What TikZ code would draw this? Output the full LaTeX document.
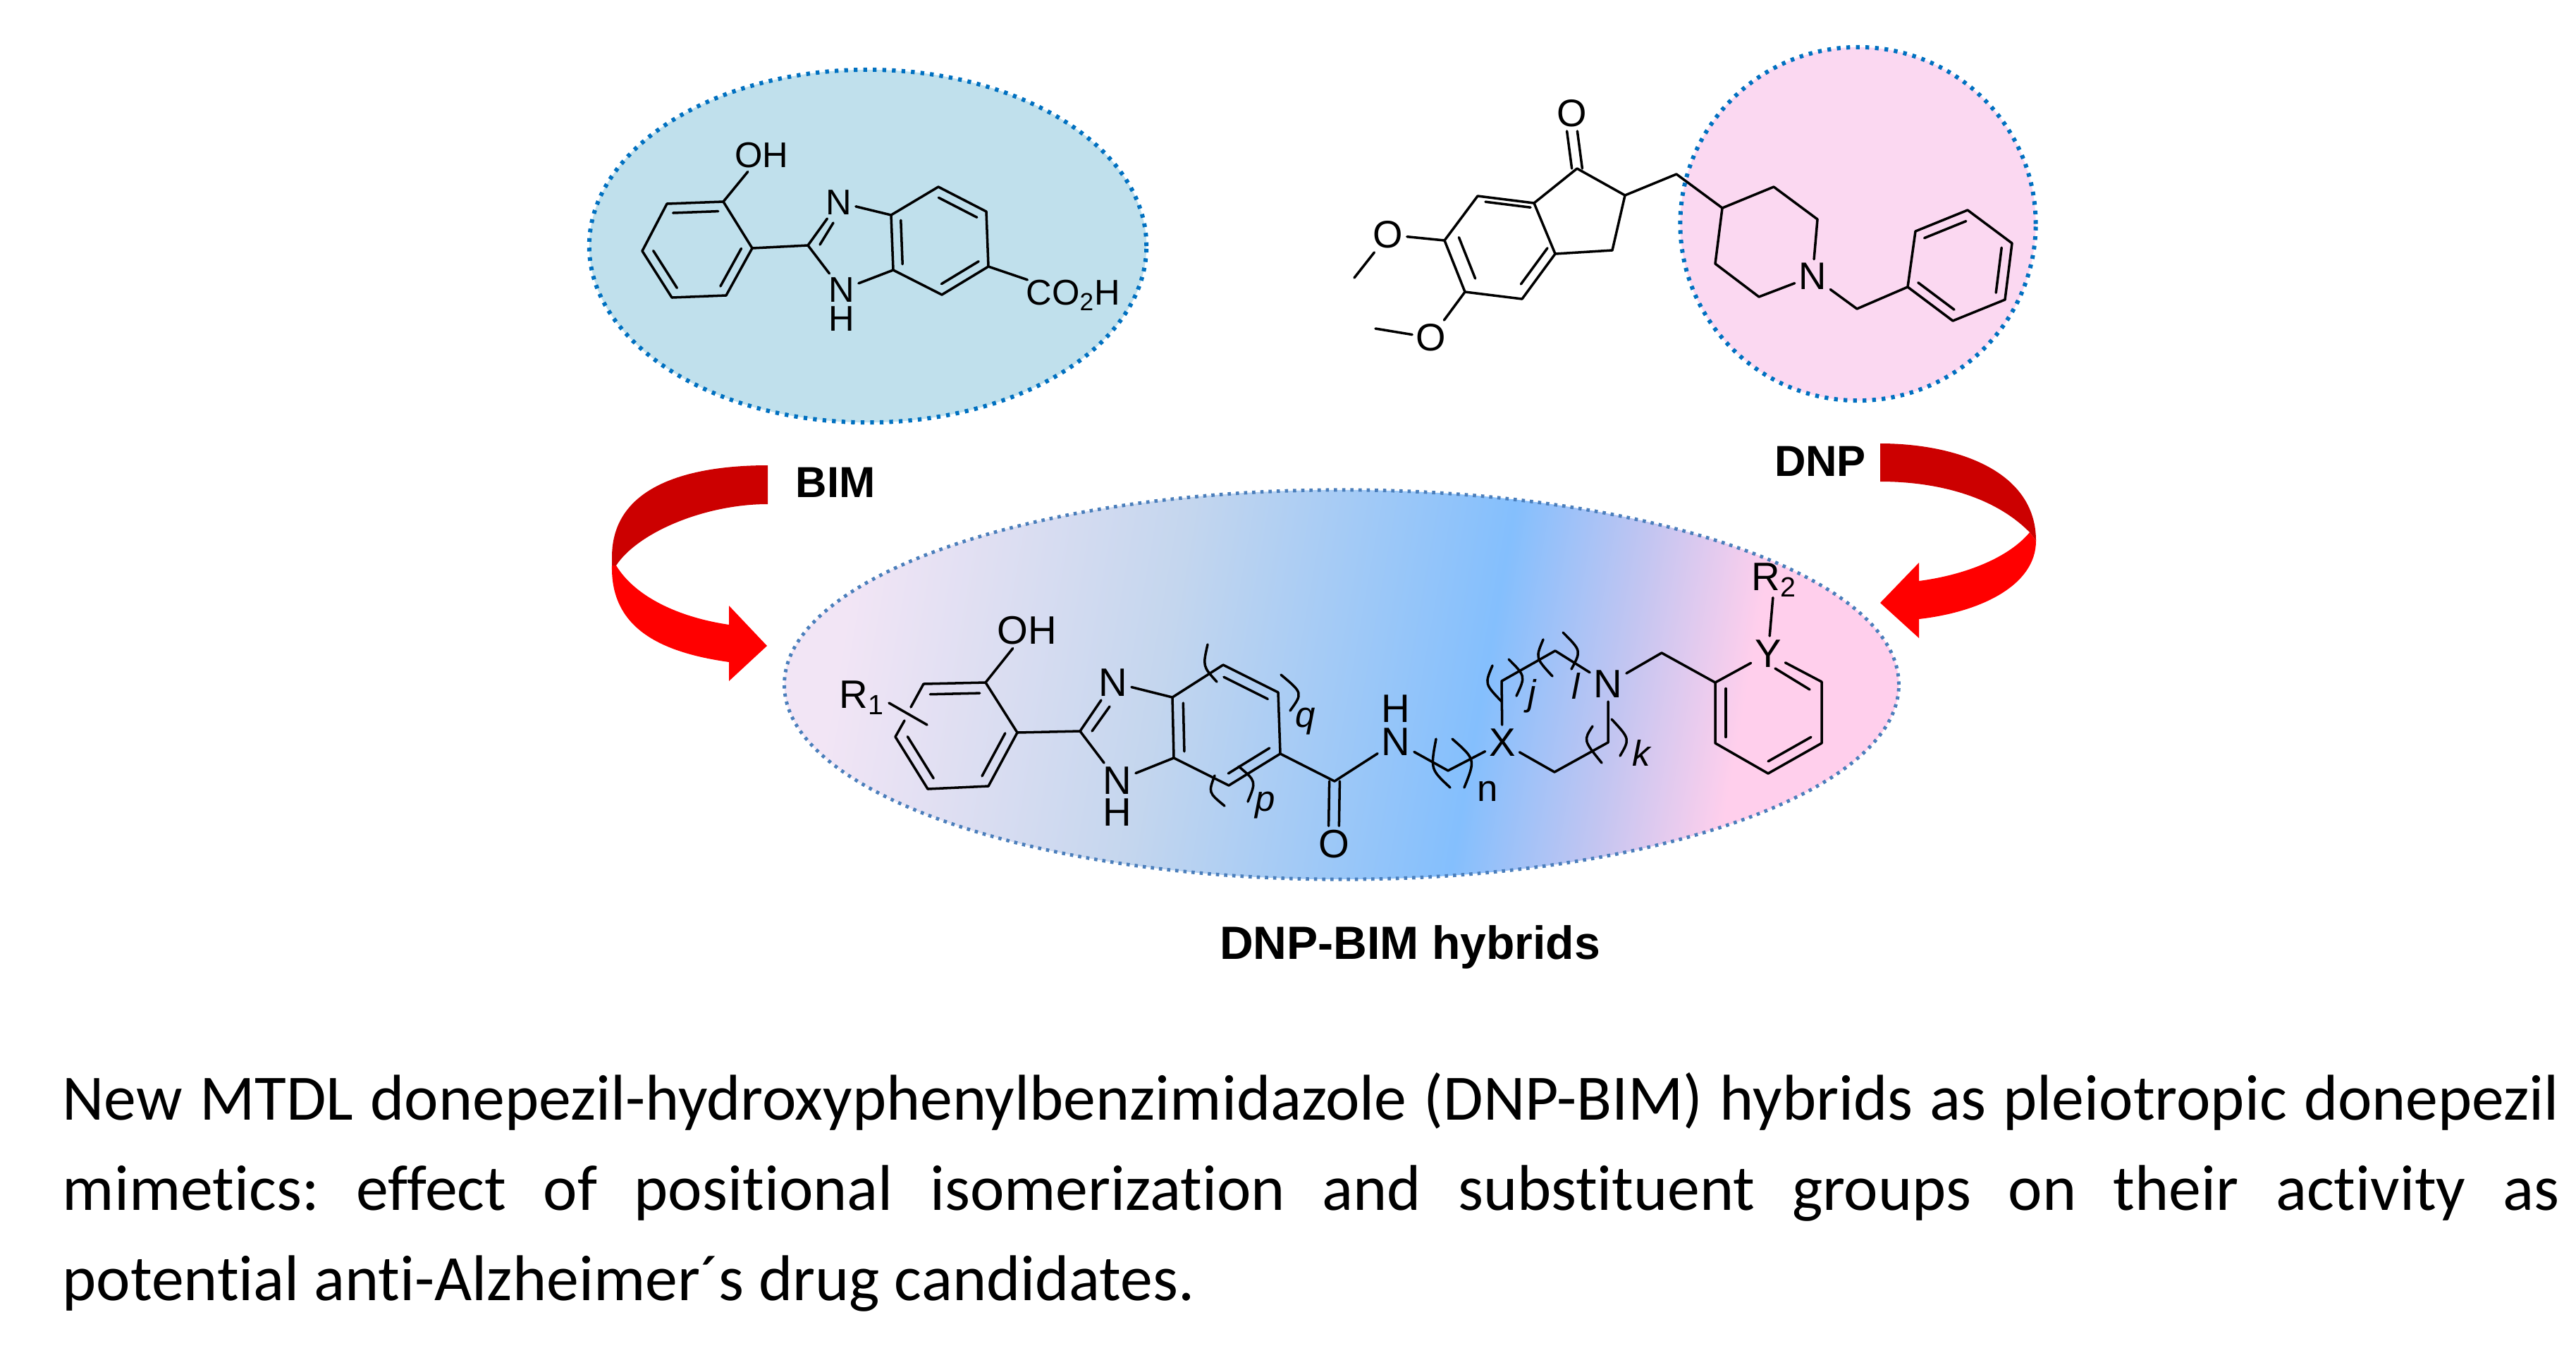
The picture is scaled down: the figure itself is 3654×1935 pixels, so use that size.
\documentclass[tikz,border=0pt]{standalone}
\usepackage{fontspec}
\setmainfont{Liberation Sans}
\newfontfamily\captionfamily[Ligatures=NoCommon]{Carlito}
\usepackage{xcolor}
\usetikzlibrary{positioning,shapes,calc}

\definecolor{bimfill}{HTML}{C0E0EC}
\definecolor{dnpfill}{HTML}{FBD8F1}
\definecolor{dotblue}{HTML}{0070C0}
\definecolor{hybdot}{HTML}{4A7EBB}
\definecolor{darkarrow}{HTML}{CC0000}
\definecolor{hylav}{HTML}{F2E5F5}
\definecolor{hymid}{HTML}{C4D6EE}
\definecolor{hyblue}{HTML}{84BFFD}
\definecolor{hypurp}{HTML}{C2C5F1}
\definecolor{hypink}{HTML}{FFCFEC}
\pgfdeclarehorizontalshading{hybridshade}{100bp}{color(0bp)=(hylav); color(25bp)=(hylav);
  color(41bp)=(hymid); color(57bp)=(hyblue); color(63.8bp)=(hypurp); color(70bp)=(hypink); color(100bp)=(hypink)}

\newcommand{\innerbond}[3]{\draw[bond] ($(#1)!0.2!(#3)$) -- ($(#2)!0.2!(#3)$);}

\begin{document}
\frenchspacing
\begin{tikzpicture}[x=0.01cm,y=-0.01cm,
  bond/.style={line width=1pt, line join=round, line cap=round},
  atomnode/.style={inner sep=1.4pt, font=\fontsize{14.4}{15}\selectfont},
  dnpatom/.style={inner sep=1.4pt, font=\fontsize{15.5}{16}\selectfont},
  hybatom/.style={inner sep=1.4pt, font=\fontsize{16}{17}\selectfont},
  indexnode/.style={inner sep=0pt, font=\fontsize{14.5}{16}\selectfont\itshape},
  titlenode/.style={inner sep=0pt, font=\fontsize{17.5}{19}\selectfont\bfseries},
  bluedots/.style={draw=dotblue, line width=1.7pt, dash pattern=on 1.5pt off 2.35pt},
  hybdots/.style={draw=hybdot, line width=1.4pt, dash pattern=on 1.3pt off 2pt}
]
\useasboundingbox (0,0) rectangle (3654,1935);

%Ovals
\node[ellipse, bluedots, fill=bimfill, minimum width=7.9cm, minimum height=5cm] (bimoval) at (1231,349) {};
\node[ellipse, bluedots, fill=dnpfill, minimum width=5.04cm, minimum height=5.01cm] (dnpoval) at (2635.5,317.5) {};
\node[ellipse, hybdots, shade, shading=hybridshade, shading angle=-10, minimum width=15.8cm, minimum height=5.52cm] (hyboval) at (1903,971) {};

%Curved arrows
\fill[darkarrow] (1089,660) .. controls (985,660) and (868,685) .. (868,790) -- (868,802) -- (874,802)
  .. controls (905,755) and (1000,715) .. (1089,715) -- cycle;
\fill[red] (868,802) .. controls (866,890) and (935,925) .. (1034,939) -- (1034,966) -- (1088,916) -- (1034,859)
  -- (1034,886) .. controls (960,875) and (900,845) .. (874,802) -- cycle;
\fill[darkarrow] (2667,629) .. controls (2770,629) and (2888,665) .. (2888,767) -- (2879,755)
  .. controls (2830,705) and (2750,683) .. (2667,683) -- cycle;
\fill[red] (2888,767) .. controls (2888,830) and (2810,868) .. (2722,878) -- (2722,905) -- (2667,855) -- (2722,798)
  -- (2722,824) .. controls (2790,815) and (2850,790) .. (2879,755) -- cycle;

%Nodes BIM
\coordinate (ba1) at (1026,286);
\coordinate (ba2) at (946,289);
\coordinate (ba3) at (911,356);
\coordinate (ba4) at (953,422);
\coordinate (ba5) at (1030,419);
\coordinate (ba6) at (1067,352);
\coordinate (bc2) at (1146,348);
\coordinate (bb1) at (1264,305);
\coordinate (bb2) at (1331,265);
\coordinate (bb3) at (1399,300);
\coordinate (bb4) at (1402,378);
\coordinate (bb5) at (1336,418);
\coordinate (bb6) at (1267,383);
\coordinate (bi1) at (1182,316);
\coordinate (bi2) at (1163,347);
\coordinate (bringa) at ($(ba1)!0.5!(ba4)$);
\coordinate (bringb) at ($(bb1)!0.5!(bb4)$);
\node[atomnode] (boh) at (1080,220) {OH};
\node[atomnode] (bn3) at (1190,287) {N};
\node[atomnode] (bn1) at (1194,411) {N};
\node[atomnode] (bh1) at (1194,452) {H};
\node[atomnode, anchor=west, inner sep=0pt] (bacid) at (1455,419) {CO\textsubscript{2}H};

%Bonds BIM
\draw[bond] (ba1) -- (ba2) -- (ba3) -- (ba4) -- (ba5) -- (ba6) -- cycle;
\draw[bond] (ba1) -- (boh);
\draw[bond] (ba6) -- (bc2);
\draw[bond] (bc2) -- (bn3);
\draw[bond] (bi1) -- (bi2);
\draw[bond] (bc2) -- (bn1);
\draw[bond] (bn3) -- (bb1);
\draw[bond] (bn1) -- (bb6);
\draw[bond] (bb1) -- (bb2) -- (bb3) -- (bb4) -- (bb5) -- (bb6) -- cycle;
\draw[bond] (bb4) -- (bacid);
\innerbond{ba1}{ba2}{bringa}
\innerbond{ba3}{ba4}{bringa}
\innerbond{ba5}{ba6}{bringa}
\innerbond{bb2}{bb3}{bringb}
\innerbond{bb4}{bb5}{bringb}
\innerbond{bb6}{bb1}{bringb}

%Nodes DNP
\coordinate (dc1) at (2237,239);
\coordinate (dc2) at (2305,277);
\coordinate (dc3) at (2287,355);
\coordinate (dc3a) at (2206,360);
\coordinate (dc7a) at (2176,288);
\coordinate (dc7) at (2096,278);
\coordinate (dc6) at (2049,341);
\coordinate (dc5) at (2078,414);
\coordinate (dc4) at (2159,424);
\coordinate (dch) at (2378,247);
\coordinate (dp4) at (2443,295);
\coordinate (dp3) at (2516,265);
\coordinate (dp2) at (2578,311);
\coordinate (dp6) at (2495,421);
\coordinate (dp5) at (2433,374);
\coordinate (dbn) at (2634,438);
\coordinate (dph1) at (2706,407);
\coordinate (dph2) at (2717,328);
\coordinate (dph3) at (2791,298);
\coordinate (dph4) at (2854,345);
\coordinate (dph5) at (2844,425);
\coordinate (dph6) at (2770,455);
\coordinate (dmea) at (1921,394);
\coordinate (dmeb) at (1951,466);
\coordinate (dringa) at ($(dc7)!0.5!(dc3a)$);
\coordinate (dringb) at ($(dph1)!0.5!(dph4)$);
\node[dnpatom] (dox) at (2230,161) {O};
\node[dnpatom] (doa) at (1969,333) {O};
\node[dnpatom] (dob) at (2030,479) {O};
\node[dnpatom] (dnn) at (2571,392) {N};

%Bonds DNP
\draw[bond] ([xshift=-2.1pt]dc1) -- ([xshift=-2.1pt]dox.south);
\draw[bond] ([xshift=2.1pt]dc1) -- ([xshift=2.1pt]dox.south);
\draw[bond] (dc7a) -- (dc1) -- (dc2) -- (dc3) -- (dc3a);
\draw[bond] (dc7a) -- (dc7) -- (dc6) -- (dc5) -- (dc4) -- (dc3a) -- cycle;
\draw[bond] (dc2) -- (dch) -- (dp4) -- (dp3) -- (dp2) -- (dnn);
\draw[bond] (dp4) -- (dp5) -- (dp6) -- (dnn);
\draw[bond] (dnn) -- (dbn) -- (dph1);
\draw[bond] (dph1) -- (dph2) -- (dph3) -- (dph4) -- (dph5) -- (dph6) -- cycle;
\draw[bond] (dc6) -- (doa);
\draw[bond] (doa) -- (dmea);
\draw[bond] (dc5) -- (dob);
\draw[bond] (dob) -- (dmeb);
\innerbond{dc7}{dc7a}{dringa}
\innerbond{dc6}{dc5}{dringa}
\innerbond{dc4}{dc3a}{dringa}
\innerbond{dph2}{dph3}{dringb}
\innerbond{dph4}{dph5}{dringb}
\innerbond{dph6}{dph1}{dringb}

%Nodes hybrid
\coordinate (ha1) at (1398,968);
\coordinate (ha2) at (1310,970);
\coordinate (ha3) at (1270,1045);
\coordinate (ha4) at (1316,1119);
\coordinate (ha5) at (1402,1115);
\coordinate (ha6) at (1443,1039);
\coordinate (hgapa) at (1292,1003);
\coordinate (hgapb) at (1283,1022);
\coordinate (hra) at (1261,997);
\coordinate (hrb) at (1315,1028);
\coordinate (hc2) at (1532,1037);
\coordinate (hi1) at (1574,1002);
\coordinate (hi2) at (1549,1037);
\coordinate (hb1) at (1663,989);
\coordinate (hb2) at (1735,943);
\coordinate (hb3) at (1813,982);
\coordinate (hb4) at (1816,1069);
\coordinate (hb5) at (1743,1114);
\coordinate (hb6) at (1665,1075);
\coordinate (hco) at (1893,1108);
\coordinate (hch) at (2054,1093);
\coordinate (hr1) at (2130,966);
\coordinate (hr2) at (2206,923);
\coordinate (hr5) at (2281,1053);
\coordinate (hr6) at (2205,1095);
\coordinate (hbn) at (2357,926);
\coordinate (hp1) at (2433,968);
\coordinate (hp3) at (2584,967);
\coordinate (hp4) at (2584,1054);
\coordinate (hp5) at (2508,1097);
\coordinate (hp6) at (2433,1054);
\coordinate (hyi1) at (2518,948);
\coordinate (hyi2) at (2567,978);
\coordinate (hringa) at ($(ha1)!0.5!(ha4)$);
\coordinate (hringb) at ($(hb1)!0.5!(hb4)$);
\coordinate (hringc) at ($(hp1)!0.5!(hp4)$);
\node[hybatom, inner sep=0pt] (hrone) at (1223,990) {R\textsubscript{1}};
\node[hybatom] (hoh) at (1457,894) {OH};
\node[hybatom] (hn3) at (1579,968) {N};
\node[hybatom] (hn1) at (1585,1107) {N};
\node[hybatom] (hh1) at (1585,1152) {H};
\node[hybatom] (hox) at (1892,1197) {O};
\node[hybatom] (hnh) at (1980,1052) {N};
\node[hybatom] (hhh) at (1980,1005) {H};
\node[hybatom] (hx) at (2131,1053) {X};
\node[hybatom] (hn) at (2281,970) {N};
\node[hybatom] (hy) at (2508,927) {Y};
\node[hybatom, inner sep=0pt] (hrtwo) at (2517,823) {R\textsubscript{2}};
\node[indexnode] (hq) at (1852,1023) {q};
\node[indexnode] (hpp) at (1795,1142) {p};
\node[indexnode, font=\fontsize{15}{16}\selectfont] (hnn) at (2110,1122) {n};
\node[indexnode] (hj) at (2173,987) {j};
\node[indexnode] (hl) at (2235,973) {l};
\node[indexnode] (hk) at (2328,1068) {k};

%Bonds hybrid
\draw[bond] (ha3) -- (ha4) -- (ha5) -- (ha6) -- (ha1) -- (ha2) -- (hgapa);
\draw[bond] (hgapb) -- (ha3);
\draw[bond] (hra) -- (hrb);
\draw[bond] (ha1) -- (hoh);
\draw[bond] (ha6) -- (hc2);
\draw[bond] (hc2) -- (hn3);
\draw[bond] (hi1) -- (hi2);
\draw[bond] (hc2) -- (hn1);
\draw[bond] (hn3) -- (hb1);
\draw[bond] (hn1) -- (hb6);
\draw[bond] (hb1) -- (hb2) -- (hb3) -- (hb4) -- (hb5) -- (hb6) -- cycle;
\draw[bond] (hb4) -- (hco) -- (hnh);
\draw[bond] ([xshift=-2.1pt]hco) -- ([xshift=-2.1pt]hox.north);
\draw[bond] ([xshift=2.1pt]hco) -- ([xshift=2.1pt]hox.north);
\draw[bond] (hnh) -- (hch) -- (hx);
\draw[bond] (hx) -- (hr1) -- (hr2) -- (hn);
\draw[bond] (hn) -- (hr5) -- (hr6) -- (hx);
\draw[bond] (hn) -- (hbn) -- (hp1) -- (hy);
\draw[bond] (hy) -- (hp3) -- (hp4) -- (hp5) -- (hp6) -- (hp1);
\draw[bond] (hy) -- (hrtwo);
\draw[bond] (hyi1) -- (hyi2);
\innerbond{ha1}{ha2}{hringa}
\innerbond{ha3}{ha4}{hringa}
\innerbond{ha5}{ha6}{hringa}
\innerbond{hb2}{hb3}{hringb}
\innerbond{hb4}{hb5}{hringb}
\innerbond{hb6}{hb1}{hringb}
\innerbond{hp1}{hp6}{hringc}
\innerbond{hp4}{hp5}{hringc}

%Brackets
\draw[bond] (1713,914) .. controls (1706,945) .. (1726,967);
\draw[bond] (1817,957) .. controls (1848,983) .. (1830,1008);
\draw[bond] (1723,1100) .. controls (1714,1124) .. (1737,1143);
\draw[bond] (1757,1087) .. controls (1782,1108) .. (1770,1137);
\draw[bond] (2037,1048) .. controls (2029,1091) .. (2057,1117);
\draw[bond] (2060,1048) .. controls (2093,1077) .. (2077,1117);
\draw[bond] (2117,944) .. controls (2106,970) .. (2130,995);
\draw[bond] (2140,935) .. controls (2164,959) .. (2151,987);
\draw[bond] (2189,907) .. controls (2178,933) .. (2202,959);
\draw[bond] (2217,897) .. controls (2243,923) .. (2229,949);
\draw[bond] (2259,1030) .. controls (2246,1050) .. (2272,1082);
\draw[bond] (2286,1020) .. controls (2312,1048) .. (2298,1072);

%Titles
\node[titlenode] (bimtitle) at (1185,684) {BIM};
\node[titlenode] (dnptitle) at (2582,654) {DNP};
\node[titlenode, font=\fontsize{18.8}{20}\selectfont\bfseries] (hybtitle) at (2000,1343) {DNP-BIM hybrids};
\node[anchor=north west, inner sep=0pt, text width=35.4cm, align=justify,
  font=\captionfamily\fontsize{26.1}{36.4}\selectfont] (caption) at (88,1521)
  {New MTDL donepezil-hydroxyphenylbenzimidazole (DNP-BIM) hybrids as pleiotropic donepezil\linebreak
   mimetics: effect of positional isomerization and substituent groups on their activity as\linebreak
   potential anti-Alzheimer´s drug candidates.};
\end{tikzpicture}
\end{document}
